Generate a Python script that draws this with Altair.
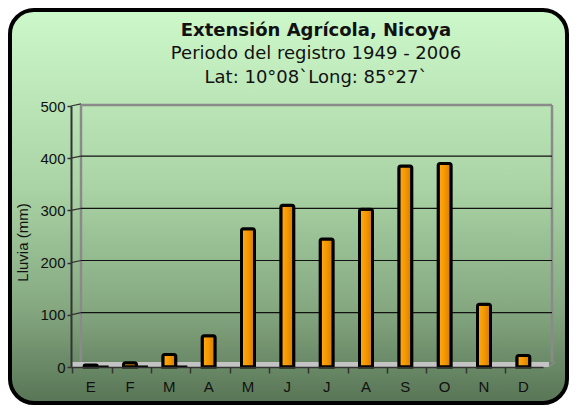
import altair as alt
import pandas as pd

# ---- data ----
meses = ["Ene", "Feb", "Mar", "Abr", "May", "Jun", "Jul", "Ago", "Set", "Oct", "Nov", "Dic"]
lluvia = [4, 8, 24, 60, 265, 310, 245, 302, 385, 390, 120, 22]
serie2 = [1, 1, 1, 0, 0, 0, 0, 0, 0, 0, 0, 0]
grid_vals = [100, 200, 300, 400, 500]
titulo = "Extensión Agrícola, Nicoya"
sub1 = "Periodo del registro 1949 - 2006"
sub2 = "Lat: 10°08`Long: 85°27`"
y_title = "Lluvia (mm)"

df = pd.DataFrame({"mes": meses, "lluvia": lluvia, "serie2": serie2})
gdf = pd.DataFrame({"v": grid_vals})

W, H = 472, 261

xenc = alt.X("mes:N", sort=meses, scale=alt.Scale(domain=meses),
             axis=alt.Axis(title=None, labelExpr="slice(datum.label,0,1)",
                           labelAngle=0, bandPosition=0, tickSize=6,
                           labelPadding=6, labelFontSize=15,
                           labelFont="Liberation Sans", labelColor="#111",
                           domainColor="#333", domainWidth=1.5,
                           tickColor="#333", tickWidth=1.5, zindex=1))
yscale = alt.Scale(domain=[0, 500], nice=False)
yenc = alt.Y("lluvia:Q", scale=yscale,
             axis=alt.Axis(title=y_title, values=list(range(0, 501, 50)),
                           labelExpr="datum.value % 100 == 0 ? datum.label : ''",
                           tickSize=4, labelPadding=2, labelFontSize=15,
                           labelFont="Liberation Sans", labelColor="#111",
                           domainColor="#333", domainWidth=2,
                           tickColor="#333", tickWidth=1.5,
                           titleFont="Liberation Sans", titleFontSize=15,
                           titleFontWeight="normal", titleColor="#111",
                           titleAngle=270, titleBaseline="middle",
                           titleX=-49, titleY=136, grid=False, zindex=1))

bg_grad = alt.LinearGradient(
    gradient="linear", x1=0, y1=0, x2=0, y2=1,
    stops=[alt.GradientStop(color="#cdf8ca", offset=0),
           alt.GradientStop(color="#aad4a5", offset=0.45),
           alt.GradientStop(color="#86a982", offset=0.75),
           alt.GradientStop(color="#587555", offset=1)])

bar_grad = alt.LinearGradient(
    gradient="linear", x1=0, y1=0, x2=1, y2=0,
    stops=[alt.GradientStop(color="#ffab1a", offset=0),
           alt.GradientStop(color="#f59700", offset=0.5),
           alt.GradientStop(color="#d07c00", offset=1)])

one = pd.DataFrame({"a": [0]})

background = alt.Chart(one).mark_rect(
    fill=bg_grad, stroke="#000", strokeWidth=4, cornerRadius=24
).encode(x=alt.value(-61), x2=alt.value(496), y=alt.value(-96), y2=alt.value(297))

floor = alt.Chart(one).mark_rect(fill="#c4c4c4").encode(
    x=alt.value(0), x2=alt.value(478), y=alt.value(H - 5), y2=alt.value(H))

wall_style = dict(color="#8a8a8a", strokeWidth=2.5)
wall_top = alt.Chart(one).mark_rule(**wall_style).encode(
    x=alt.value(10), x2=alt.value(481), y=alt.value(-1))
wall_left = alt.Chart(one).mark_rule(**wall_style).encode(
    x=alt.value(10), y=alt.value(-1), y2=alt.value(H - 5))
wall_right = alt.Chart(one).mark_rule(**wall_style).encode(
    x=alt.value(481), y=alt.value(-1), y2=alt.value(H - 5))
floor_diag = alt.Chart(one).mark_rule(color="#8a8a8a", strokeWidth=1.5).encode(
    x=alt.value(478), y=alt.value(H), x2=alt.value(484), y2=alt.value(H - 5))

grid = alt.Chart(gdf).transform_filter("datum.v < 500").transform_calculate(
    v2="datum.v + 4").mark_rule(color="#111", strokeWidth=1.2).encode(
    x=alt.value(10), x2=alt.value(481), y=alt.Y("v2:Q", scale=yscale))
diag = alt.Chart(gdf).transform_calculate(v2="datum.v + 4").mark_rule(
    color="#333", strokeWidth=1.2).encode(
    x=alt.value(0), x2=alt.value(10),
    y=alt.Y("v:Q", scale=yscale), y2="v2:Q")

bars = alt.Chart(df).mark_bar(
    fill=bar_grad, stroke="#000", strokeWidth=3, width=13, cornerRadiusTopLeft=2,
    cornerRadiusTopRight=2
).encode(x=xenc, y=yenc)

bars2 = alt.Chart(df).transform_filter("datum.serie2 > 0").mark_bar(
    fill="#000", stroke="#000", strokeWidth=2, width=10, xOffset=12
).encode(x=alt.X("mes:N", sort=meses, scale=alt.Scale(domain=meses)),
         y=alt.Y("serie2:Q", scale=yscale))

def text_layer(t, y, bold):
    return alt.Chart(pd.DataFrame({"t": [t]})).mark_text(
        font="DejaVu Sans", fontSize=18, fontWeight="bold" if bold else "normal",
        color="#111", align="center", baseline="alphabetic"
    ).encode(text="t:N", x=alt.value(245), y=alt.value(y))

t1 = text_layer(titulo, -70, True)
t2 = text_layer(sub1, -47, False)
t3 = text_layer(sub2, -23, False)

chart = alt.layer(
    background, floor, wall_top, wall_left, wall_right, floor_diag,
    grid, diag, bars, bars2, t1, t2, t3
).properties(
    width=W, height=H,
    autosize=alt.AutoSizeParams(type="none"),
    padding={"left": 63, "top": 98, "right": 26, "bottom": 38},
    background="white"
).configure_view(stroke=None)

chart.save("out.html", embed_options={"renderer": "svg", "actions": False})
